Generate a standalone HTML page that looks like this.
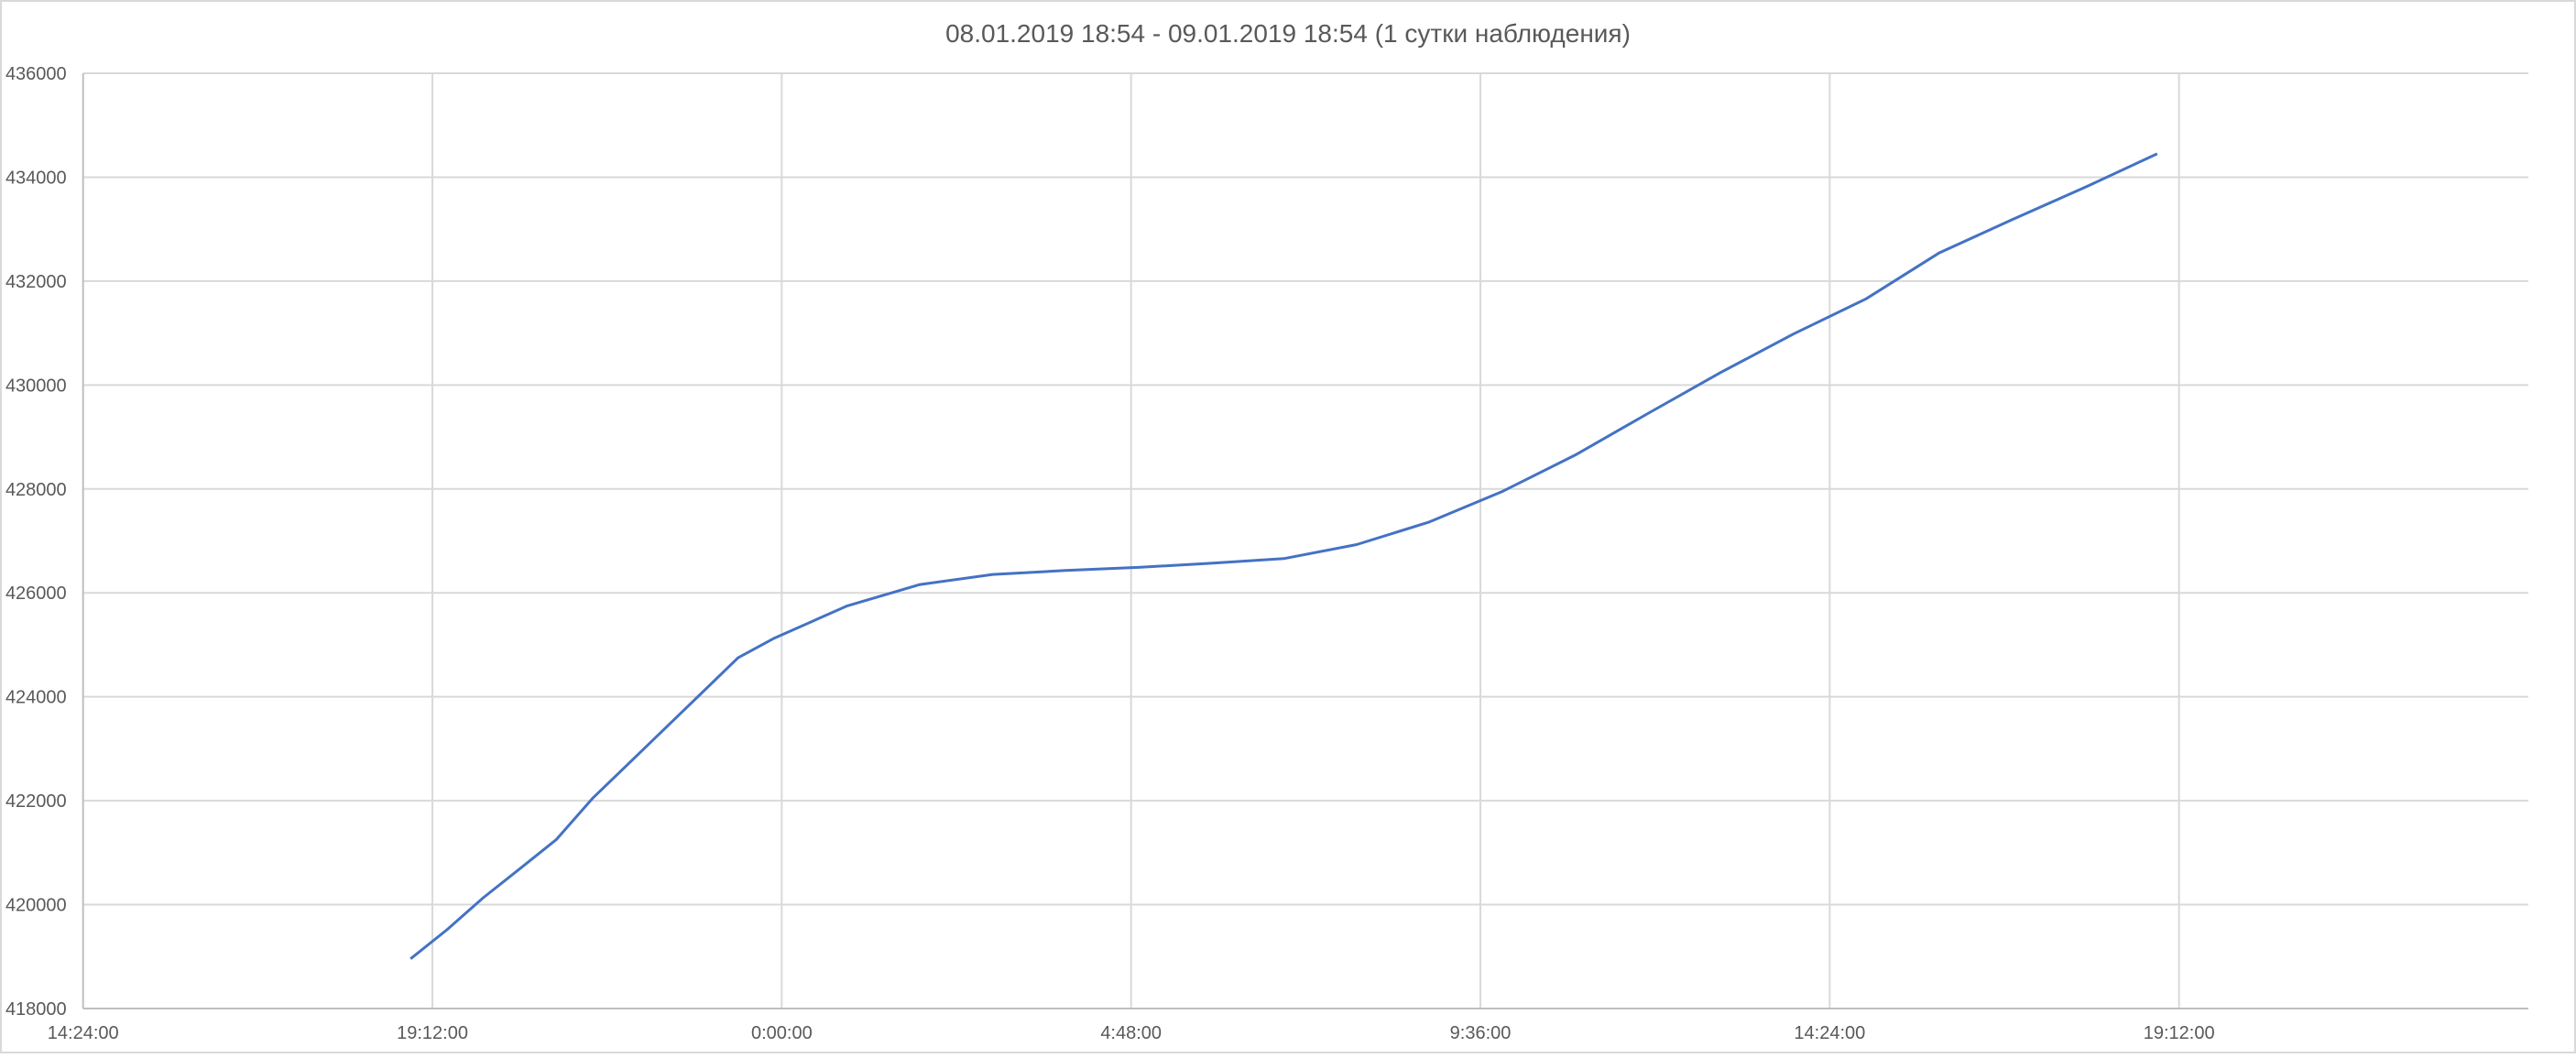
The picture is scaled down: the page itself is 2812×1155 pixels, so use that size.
<!DOCTYPE html>
<html><head><meta charset="utf-8"><style>
html,body{margin:0;padding:0;background:#fff;}
svg text{font-family:"Liberation Sans","Noto Sans CJK SC",sans-serif;fill:#595959;}
</style></head><body>
<svg id="chart" width="2812" height="1150" xmlns="http://www.w3.org/2000/svg">
<rect x="1" y="1" width="2810" height="1148" fill="#fff" stroke="#d9d9d9" stroke-width="2"/>
<text x="1406" y="46" font-size="28" text-anchor="middle">08.01.2019 18:54 - 09.01.2019 18:54 (1 сутки наблюдения)</text>
<g id="grid"></g><g id="axes"></g><g id="series"></g>
</svg>
<script>
// data: time in hours after 18:54 on 08.01.2019, values
const hours = [0,0.5,1,1.5,2,2.5,3,3.5,4,4.5,5,6,7,8,9,10,11,12,13,14,15,16,17,18,19,20,21,22,23,24];
const values = [418958,419517,420134,420690,421250,422044,422720,423397,424073,424750,425130,425750,426160,426355,426430,426490,426570,426660,426930,427365,427950,428650,429450,430240,430980,431660,432540,433180,433800,434450];
const yTicks = [418000,420000,422000,424000,426000,428000,430000,432000,434000,436000];
const xTickDays = [0.6,0.8,1.0,1.2,1.4,1.6,1.8];
const xTickLabels = ["14:24:00","19:12:00","0:00:00","4:48:00","9:36:00","14:24:00","19:12:00"];
const startDay = 0.7875; // 18:54

const L=90.7,R=2760,T=80,B=1101;
const xMin=0.6,xMax=2.0,yMin=418000,yMax=436000;
const X=d=>L+(d-xMin)/(xMax-xMin)*(R-L);
const Y=v=>B-(v-yMin)/(yMax-yMin)*(B-T);
const NS="http://www.w3.org/2000/svg";
const g=document.getElementById('grid'),ax=document.getElementById('axes'),s=document.getElementById('series');
function mk(tag,attrs,parent){const e=document.createElementNS(NS,tag);for(const k in attrs)e.setAttribute(k,attrs[k]);parent.appendChild(e);return e;}
yTicks.forEach(v=>{
  if(v!==yMin){const ln=mk('line',{x1:L,x2:R,y1:Y(v),y2:Y(v),stroke:'#d9d9d9','stroke-width':2},g);
  
  }
  const t=mk('text',{x:L-18,y:Y(v)+7,'font-size':20,'text-anchor':'end'},ax);
  t.textContent=v;
  
  
});
xTickDays.forEach((d,i)=>{
  if(i>0){const ln=mk('line',{x1:X(d),x2:X(d),y1:T,y2:B,stroke:'#d9d9d9','stroke-width':2},g);
  
  }
  const t=mk('text',{x:X(d),y:1134,'font-size':20,'text-anchor':'middle'},ax);
  t.textContent=xTickLabels[i];
  
  
});
const ya=mk('line',{x1:L,x2:L,y1:T,y2:B,stroke:'#bfbfbf','stroke-width':2},ax);


const xa=mk('line',{x1:L,x2:R,y1:B,y2:B,stroke:'#bfbfbf','stroke-width':2},ax);


const pts=hours.map((h,i)=>X(startDay+h/24).toFixed(1)+','+Y(values[i]).toFixed(1)).join(' ');
const pl=mk('polyline',{points:pts,fill:'none',stroke:'#4472C4','stroke-width':3,'stroke-linejoin':'round'},s);


</script>
</body></html>
